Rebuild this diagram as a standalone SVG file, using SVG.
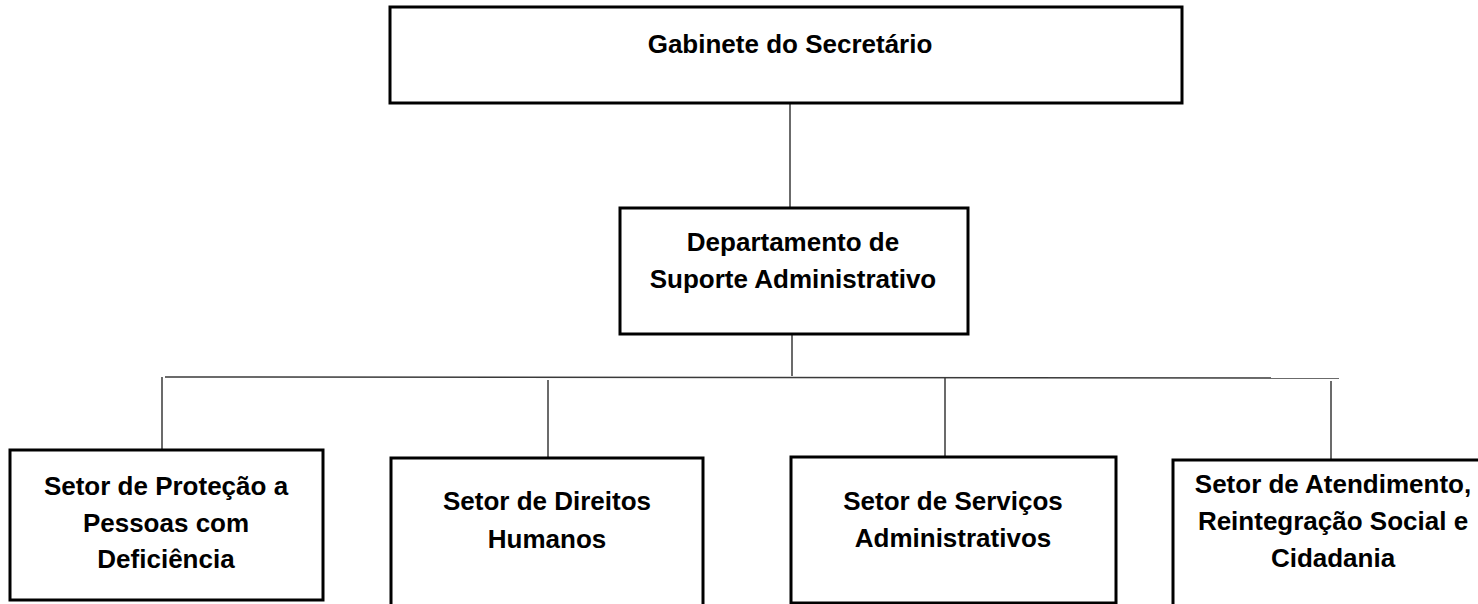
<svg xmlns="http://www.w3.org/2000/svg" width="1478" height="604" viewBox="0 0 1478 604">
<style>
.box{fill:#fff;stroke:#000;stroke-width:3}
.lbl{font-family:"Liberation Sans",Arial,sans-serif;font-weight:bold;font-size:26px;fill:#000;text-anchor:middle}
.con{stroke:#3a3a3a;stroke-width:1.5;fill:none}
</style>
<rect width="1478" height="604" fill="#fff"/>
<g id="connectors">
<line class="con" x1="790" y1="103" x2="790" y2="208"/>
<line class="con" x1="792" y1="334" x2="792" y2="376"/>
<line class="con" x1="165" y1="377" x2="1339" y2="378"/>
<line class="con" x1="162" y1="377" x2="162" y2="450"/>
<line class="con" x1="548" y1="380" x2="548" y2="458"/>
<line class="con" x1="945" y1="378" x2="945" y2="457"/>
<line class="con" x1="1331" y1="381" x2="1331" y2="460"/>
</g>
<g id="gabinete">
<rect class="box" x="390" y="7" width="792" height="96"/>
<text class="lbl" x="790" y="53">Gabinete do Secretário</text>
</g>
<g id="departamento">
<rect class="box" x="620" y="208" width="348" height="126"/>
<text class="lbl" x="793" y="251">Departamento de</text>
<text class="lbl" x="793" y="288">Suporte Administrativo</text>
</g>
<g id="setor-protecao">
<rect class="box" x="10" y="450" width="313" height="150"/>
<text class="lbl" x="166" y="495">Setor de Proteção a</text>
<text class="lbl" x="166" y="532">Pessoas com</text>
<text class="lbl" x="166" y="568">Deficiência</text>
</g>
<g id="setor-direitos">
<rect class="box" x="391" y="458" width="312" height="160"/>
<text class="lbl" x="547" y="510">Setor de Direitos</text>
<text class="lbl" x="547" y="548">Humanos</text>
</g>
<g id="setor-servicos">
<rect class="box" x="791" y="457" width="325" height="146"/>
<text class="lbl" x="953" y="510">Setor de Serviços</text>
<text class="lbl" x="953" y="547">Administrativos</text>
</g>
<g id="setor-atendimento">
<rect class="box" x="1173" y="460" width="326" height="160"/>
<text class="lbl" x="1333" y="493">Setor de Atendimento,</text>
<text class="lbl" x="1333" y="530">Reintegração Social e</text>
<text class="lbl" x="1333" y="567">Cidadania</text>
</g>
</svg>
